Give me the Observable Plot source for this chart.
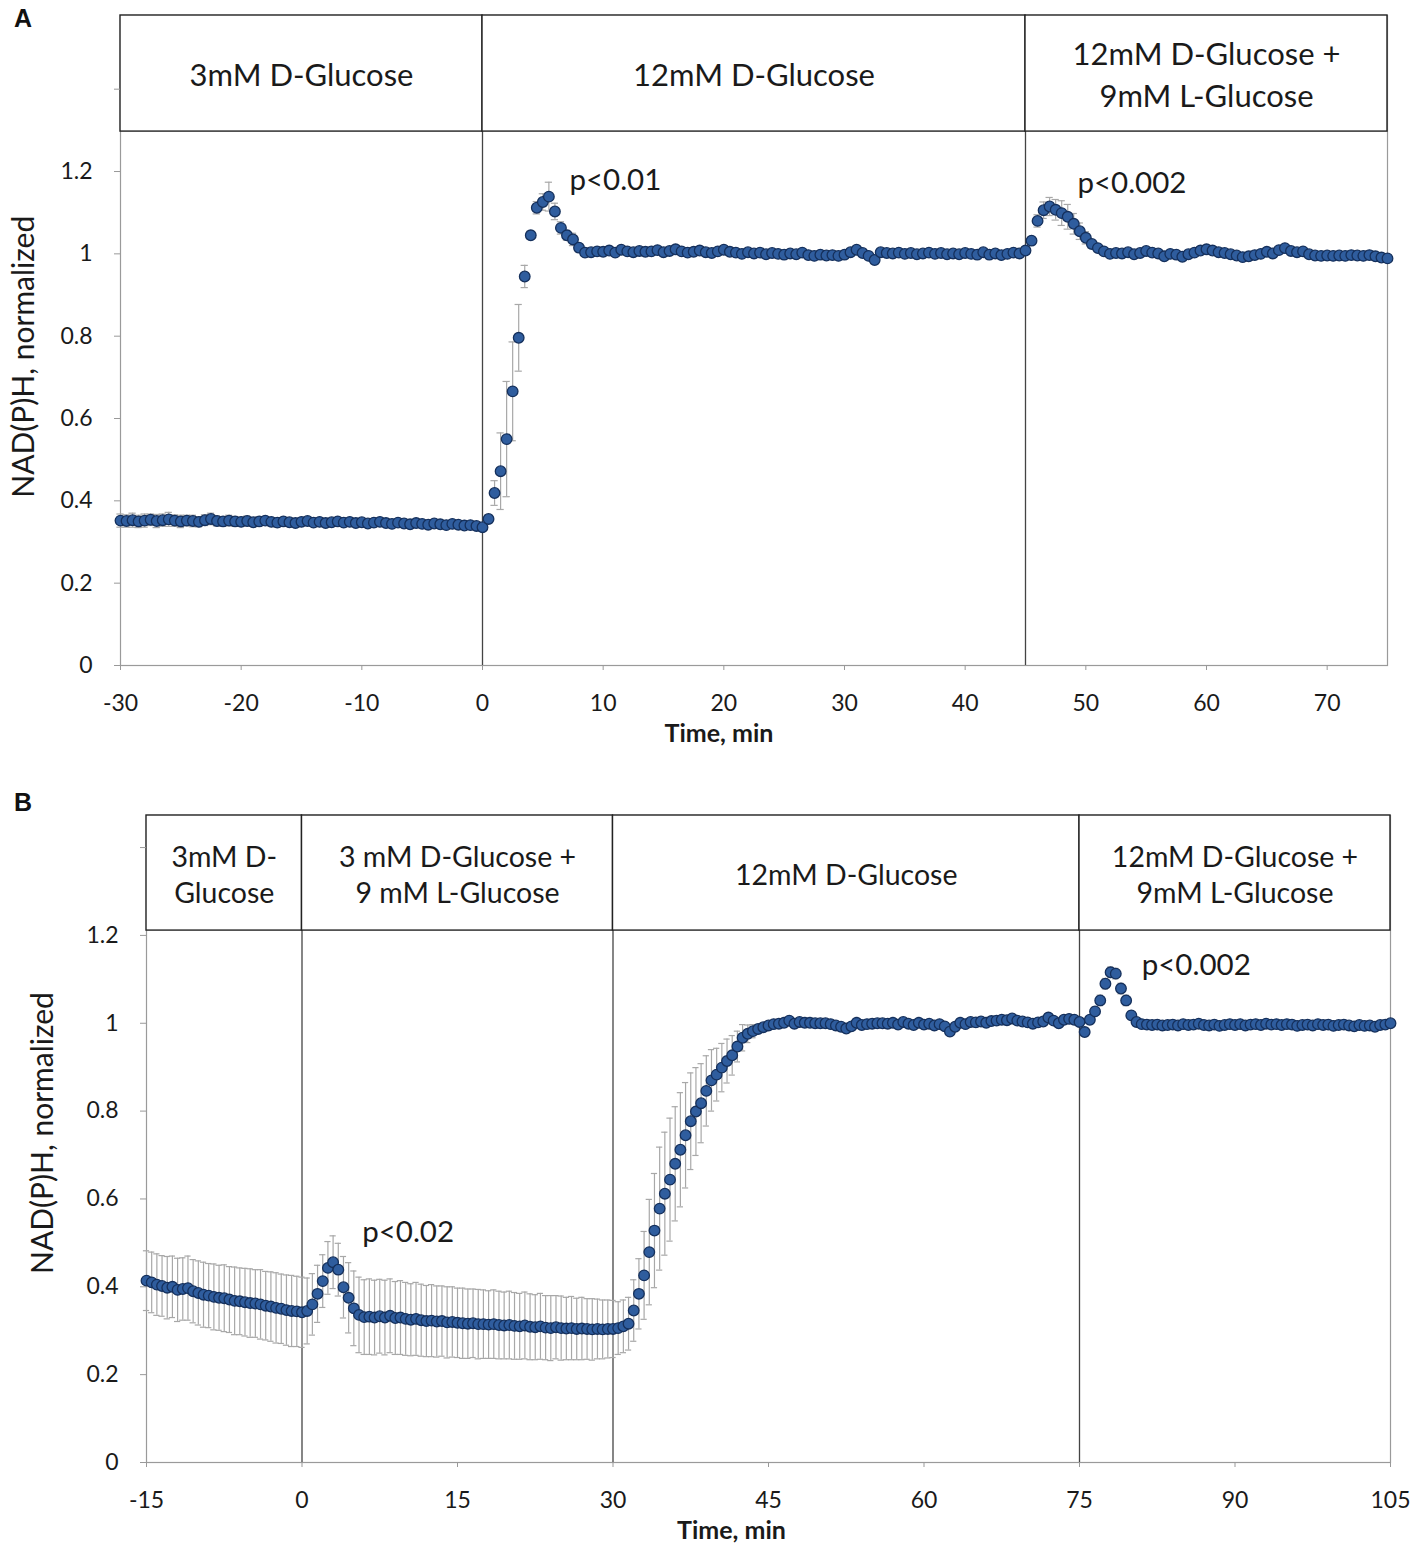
<!DOCTYPE html>
<html>
<head>
<meta charset="utf-8">
<script src="https://cdn.jsdelivr.net/npm/d3@7"></script>
<script src="https://cdn.jsdelivr.net/npm/@observablehq/plot@0.6"></script>
<style>
  html, body { margin: 0; padding: 0; background: #fff; }
  #wrap { position: relative; width: 1417px; height: 1550px; }
  .panel { position: absolute; left: 0; z-index: 1; }
  .plabel { position: absolute; left: 14px; z-index: 5; font-family: "Liberation Sans", Arial, sans-serif; font-weight: bold; font-size: 25px; line-height: 1; color: #111; }
</style>
</head>
<body>
<div id="wrap">
  <div id="pa" class="panel" style="top:0px"></div>
  <div id="pb" class="panel" style="top:780px"></div>
  <div class="plabel" style="top:6px">A</div>
  <div class="plabel" style="top:790px">B</div>
</div>
<script>
// ---------- Panel A data (0.5-min sampling, -30 .. 75 min) ----------
const timeStartA = -30, timeStepA = 0.5;
const yA_pre = [
  0.352,0.351,0.353,0.350,0.352,0.354,0.351,0.353,0.355,0.352,
  0.350,0.352,0.351,0.349,0.353,0.356,0.351,0.350,0.352,0.350,
  0.349,0.351,0.348,0.350,0.352,0.349,0.347,0.350,0.348,0.346,
  0.349,0.351,0.347,0.349,0.346,0.348,0.350,0.347,0.349,0.346,
  0.348,0.345,0.347,0.349,0.346,0.344,0.347,0.345,0.343,0.346,
  0.344,0.342,0.345,0.343,0.341,0.344,0.342,0.340,0.341,0.339
];
const yA_rise = [0.336,0.356,0.419,0.472,0.550,0.666,0.796,0.945,1.045,1.112,1.126,1.139,1.103,1.063,1.045,1.035,1.015,1.003];
const yA_plat = [
  1.004,1.006,1.005,1.008,1.003,1.010,1.006,1.004,1.007,1.005,
  1.006,1.009,1.004,1.007,1.011,1.006,1.003,1.005,1.008,1.004,
  1.002,1.006,1.010,1.005,1.003,1.000,1.004,1.001,1.003,0.999,
  1.002,1.000,0.998,1.001,0.999,1.003,0.997,0.995,0.998,0.996,
  0.997,0.995,0.998,1.004,1.010,1.002,0.995,0.985,1.004,1.002,
  1.001,1.003,1.000,1.002,0.999,1.001,1.003,1.000,1.002,0.999,
  1.001,0.999,1.002,1.000,0.998,1.004,0.998,1.001,0.997,1.000,
  1.003,1.001,1.008
];
const yA_post = [
  1.032,1.080,1.106,1.115,1.107,1.099,1.090,1.073,1.055,1.039,
  1.024,1.014,1.006,1.000,1.002,1.001,1.004,0.999,1.002,1.007,
  1.003,1.001,0.994,1.000,0.998,0.993,0.999,1.003,1.008,1.011,
  1.008,1.004,1.002,0.999,0.996,0.992,0.994,0.997,1.000,1.005,
  1.001,1.009,1.014,1.007,1.004,1.006,0.999,0.996,0.995,0.996,
  0.995,0.996,0.995,0.997,0.996,0.995,0.997,0.994,0.991,0.989
];
const eA_pre = [
  0.016,0.015,0.017,0.015,0.016,0.014,0.016,0.015,0.017,0.014,
  0.015,0.013,0.014,0.012,0.013,0.014,0.012,0.011,0.013,0.012,
  0.011,0.012,0.010,0.011,0.009,0.010,0.011,0.009,0.010,0.008,
  0.009,0.008,0.009,0.007,0.008,0.009,0.007,0.008,0.007,0.008,
  0.007,0.006,0.008,0.007,0.006,0.007,0.006,0.005,0.007,0.006,
  0.005,0.006,0.005,0.006,0.005,0.004,0.005,0.006,0.005,0.004
];
const eA_rise = [0.005,0.010,0.030,0.093,0.140,0.120,0.081,0.027,0.010,0.015,0.020,0.035,0.020,0.015,0.012,0.015,0.010,0.006];
const eA_plat = [
  0.005,0.005,0.004,0.005,0.005,0.004,0.005,0.005,0.004,0.005,
  0.005,0.004,0.005,0.004,0.005,0.005,0.004,0.005,0.004,0.005,
  0.004,0.005,0.004,0.004,0.005,0.004,0.004,0.005,0.004,0.004,
  0.004,0.005,0.004,0.004,0.004,0.005,0.004,0.004,0.004,0.004,
  0.004,0.004,0.005,0.004,0.004,0.004,0.004,0.005,0.004,0.004,
  0.004,0.004,0.004,0.004,0.004,0.004,0.004,0.004,0.004,0.004,
  0.004,0.004,0.004,0.004,0.004,0.004,0.004,0.004,0.004,0.004,
  0.004,0.004,0.006
];
const eA_post = [
  0.008,0.015,0.020,0.022,0.025,0.030,0.030,0.025,0.020,0.015,
  0.010,0.007,0.006,0.005,0.005,0.005,0.005,0.005,0.005,0.005,
  0.005,0.005,0.005,0.005,0.005,0.005,0.005,0.005,0.005,0.005,
  0.005,0.005,0.005,0.005,0.005,0.005,0.005,0.005,0.005,0.005,
  0.005,0.005,0.005,0.005,0.005,0.005,0.005,0.005,0.005,0.005,
  0.005,0.005,0.005,0.005,0.005,0.005,0.005,0.005,0.005,0.005
];
const headersA = [
  {x1: -30, x2: 0,  lines: ["3mM D-Glucose"]},
  {x1: 0,   x2: 45, lines: ["12mM D-Glucose"]},
  {x1: 45,  x2: 75, lines: ["12mM D-Glucose +", "9mM L-Glucose"]}
];
const dividersA = [0, 45];
const pvalsA = [{x: 7.2, y: 1.178, text: "p<0.01"}, {x: 49.3, y: 1.171, text: "p<0.002"}];
const xTicksA = [-30, -20, -10, 0, 10, 20, 30, 40, 50, 60, 70];

// ---------- Panel B data (0.5-min sampling, -15 .. 105 min) ----------
const timeStartB = -15, timeStepB = 0.5;
const yB_pre = [
  0.414,0.410,0.405,0.402,0.398,0.400,0.393,0.395,0.397,0.390,
  0.386,0.382,0.380,0.377,0.375,0.374,0.371,0.368,0.367,0.365,
  0.363,0.362,0.360,0.357,0.355,0.352,0.350,0.347,0.345,0.344
];
const yB_l = [
  0.342,0.345,0.360,0.384,0.413,0.443,0.456,0.439,0.399,0.375,
  0.351,0.336,0.331,0.332,0.330,0.333,0.330,0.334,0.329,0.330,
  0.327,0.325,0.327,0.324,0.322,0.323,0.321,0.322,0.319,0.320,
  0.318,0.317,0.316,0.317,0.315,0.315,0.314,0.315,0.313,0.312,
  0.313,0.311,0.310,0.312,0.309,0.308,0.310,0.307,0.306,0.308,
  0.306,0.305,0.306,0.304,0.305,0.304,0.303,0.304,0.303,0.304,
  0.304
];
const yB_rise = [
  0.306,0.310,0.316,0.346,0.384,0.426,0.479,0.528,0.578,0.612,
  0.644,0.680,0.712,0.745,0.777,0.799,0.818,0.846,0.870,0.883,
  0.899,0.914,0.927,0.947,0.967,0.976,0.982,0.987,0.991,0.995
];
const yB_plat = [
  0.998,0.999,1.001,1.006,0.999,1.003,1.001,1.001,1.000,1.000,
  1.000,0.998,0.995,0.992,0.988,0.993,1.001,0.996,0.998,0.999,
  1.000,1.000,0.999,1.001,0.997,1.003,0.999,0.996,1.001,0.997,
  0.999,0.995,0.998,0.993,0.981,0.992,1.001,0.998,1.003,1.002,
  1.004,1.001,1.005,1.006,1.008,1.007,1.011,1.006,1.004,1.002,
  0.999,1.002,1.004,1.013,1.006,1.000,1.008,1.010,1.008,1.003
];
const yB_post = [
  0.980,1.008,1.027,1.052,1.090,1.116,1.113,1.079,1.052,1.018,
  1.003,0.998,0.997,0.996,0.997,0.995,0.996,0.997,0.995,0.998,
  0.996,0.997,0.999,0.996,0.995,0.997,0.994,0.996,0.998,0.996,
  0.998,0.995,0.997,0.998,0.996,0.999,0.997,0.998,0.996,0.998,
  0.997,0.994,0.996,0.997,0.995,0.998,0.996,0.997,0.994,0.996,
  0.997,0.995,0.993,0.996,0.994,0.995,0.992,0.996,0.997,1.000
];
const eB_pre = [
  0.068,0.069,0.070,0.069,0.071,0.070,0.072,0.071,0.073,0.072,
  0.073,0.074,0.073,0.075,0.074,0.076,0.075,0.077,0.076,0.077,
  0.078,0.077,0.079,0.078,0.079,0.080,0.079,0.080,0.081,0.080
];
const eB_l = [
  0.080,0.075,0.070,0.065,0.060,0.060,0.060,0.060,0.070,0.080,
  0.085,0.086,0.085,0.086,0.085,0.084,0.085,0.084,0.083,0.084,
  0.083,0.082,0.083,0.082,0.081,0.082,0.081,0.080,0.081,0.080,
  0.079,0.080,0.079,0.078,0.079,0.078,0.077,0.078,0.077,0.076,
  0.077,0.076,0.075,0.076,0.075,0.074,0.075,0.073,0.074,0.072,
  0.073,0.071,0.072,0.070,0.071,0.069,0.070,0.068,0.067,0.066,
  0.065
];
const eB_rise = [
  0.060,0.060,0.060,0.070,0.080,0.100,0.120,0.130,0.140,0.140,
  0.140,0.130,0.130,0.120,0.110,0.100,0.090,0.080,0.070,0.060,
  0.055,0.050,0.045,0.035,0.030,0.020,0.015,0.010,0.008,0.006
];
const eB_plat = [
  0.005,0.005,0.005,0.005,0.005,0.005,0.005,0.005,0.005,0.005,
  0.005,0.005,0.005,0.005,0.005,0.005,0.005,0.005,0.005,0.005,
  0.005,0.005,0.005,0.005,0.005,0.005,0.005,0.005,0.005,0.005,
  0.005,0.005,0.005,0.005,0.005,0.005,0.005,0.005,0.005,0.005,
  0.005,0.005,0.005,0.005,0.005,0.005,0.005,0.005,0.005,0.005,
  0.005,0.005,0.005,0.005,0.005,0.005,0.005,0.005,0.005,0.005
];
const eB_post = [
  0.006,0.008,0.010,0.012,0.012,0.012,0.012,0.012,0.012,0.010,
  0.006,0.005,0.005,0.005,0.005,0.005,0.005,0.005,0.005,0.005,
  0.005,0.005,0.005,0.005,0.005,0.005,0.005,0.005,0.005,0.005,
  0.005,0.005,0.005,0.005,0.005,0.005,0.005,0.005,0.005,0.005,
  0.005,0.005,0.005,0.005,0.005,0.005,0.005,0.005,0.005,0.005,
  0.005,0.005,0.005,0.005,0.005,0.005,0.005,0.005,0.005,0.005
];
const headersB = [
  {x1: -15, x2: 0,   lines: ["3mM D-", "Glucose"]},
  {x1: 0,   x2: 30,  lines: ["3 mM D-Glucose +", "9 mM L-Glucose"]},
  {x1: 30,  x2: 75,  lines: ["12mM D-Glucose"]},
  {x1: 75,  x2: 105, lines: ["12mM D-Glucose +", "9mM L-Glucose"]}
];
const dividersB = [0, 30, 75];
const pvalsB = [{x: 5.8, y: 0.524, text: "p<0.02"}, {x: 81.0, y: 1.132, text: "p<0.002"}];
const xTicksB = [-15, 0, 15, 30, 45, 60, 75, 90, 105];

const yTicks = [0, 0.2, 0.4, 0.6, 0.8, 1, 1.2, 1.4];
const yTitle = "NAD(P)H, normalized";
const xTitle = "Time, min";

// ---------- build ----------
function series(start, step, ys, es) {
  return ys.map((y, i) => ({t: start + i * step, y, e: es[i]}));
}
const dataA = series(timeStartA, timeStepA, [...yA_pre, ...yA_rise, ...yA_plat, ...yA_post], [...eA_pre, ...eA_rise, ...eA_plat, ...eA_post]);
const dataB = series(timeStartB, timeStepB, [...yB_pre, ...yB_l, ...yB_rise, ...yB_plat, ...yB_post], [...eB_pre, ...eB_l, ...eB_rise, ...eB_plat, ...eB_post]);

const FONT = "Lato, 'Open Sans', sans-serif";

function headerText(headers, hb, top, lineGap, shift) {
  const rows = [];
  headers.forEach(h => {
    const n = h.lines.length;
    h.lines.forEach((s, k) => {
      rows.push({x: (h.x1 + h.x2) / 2, y: (hb + top) / 2, text: s, dy: (k - (n - 1) / 2) * lineGap + shift});
    });
  });
  return rows;
}

function panel(cfg) {
  const {data, xDomain, yMax, hb, headers, dividers, pvals, xTicks, height, margins, headerFont, lineGap, headerShift, pFont, xTitleDx, yTitleDx, capHalf} = cfg;
  const hrows = headerText(headers, hb, yMax, lineGap, headerShift);
  return Plot.plot({
    width: 1417,
    height,
    marginLeft: margins[0], marginRight: margins[1], marginTop: margins[2], marginBottom: margins[3],
    style: {fontFamily: FONT, background: "white", color: "#1a1a1a", overflow: "visible"},
    x: {domain: xDomain},
    y: {domain: [0, yMax]},
    marks: [
      Plot.frame({stroke: "#9a9a9a", strokeWidth: 1.2}),
      Plot.ruleX(dividers, {x: d => d, y1: 0, y2: hb, stroke: "#444", strokeWidth: 1.3}),
      Plot.rect(headers, {x1: "x1", x2: "x2", y1: hb, y2: yMax, fill: "white", stroke: "#222", strokeWidth: 1.4}),
      ...hrows.map(r => Plot.text([r], {x: "x", y: "y", text: "text", dy: r.dy, fontSize: headerFont, fill: "#1a1a1a"})),
      Plot.axisY({ticks: yTicks, tickFormat: d => (d > 1.3 ? "" : String(d)), tickSize: 6, tickPadding: 22, fontSize: 23, stroke: "#999", label: null}),
      Plot.axisX({ticks: xTicks, tickFormat: d => String(d), tickSize: 5, tickPadding: 24, fontSize: 23, stroke: "#999", label: null}),
      Plot.ruleX(data, {x: "t", y1: d => d.y - d.e, y2: d => d.y + d.e, stroke: "#a8a8a8", strokeWidth: 1.2}),
      Plot.ruleY(data, {y: d => d.y + d.e, x1: d => d.t - capHalf, x2: d => d.t + capHalf, stroke: "#a8a8a8", strokeWidth: 1.2}),
      Plot.ruleY(data, {y: d => d.y - d.e, x1: d => d.t - capHalf, x2: d => d.t + capHalf, stroke: "#a8a8a8", strokeWidth: 1.2}),
      Plot.dot(data, {x: "t", y: "y", r: 5.3, fill: "#2F5D9E", stroke: "#15305C", strokeWidth: 1.3}),
      Plot.text(pvals, {x: "x", y: "y", text: "text", textAnchor: "start", fontSize: pFont, fill: "#1a1a1a"}),
      Plot.text([xTitle], {frameAnchor: "bottom", lineAnchor: "middle", dy: 68, dx: xTitleDx, fontSize: 25, fontWeight: "bold", fill: "#1a1a1a"}),
      Plot.text([yTitle], {frameAnchor: "left", textAnchor: "middle", lineAnchor: "middle", y: [0.75], dx: yTitleDx, rotate: -90, fontSize: 30, fill: "#1a1a1a"})
    ]
  });
}

const svgA = panel({
  data: dataA, xDomain: [-30, 75], yMax: 1.579, hb: 1.297,
  headers: headersA, dividers: dividersA, pvals: pvalsA, xTicks: xTicksA,
  height: 780, margins: [120, 30, 15, 115], headerFont: 31, lineGap: 42, headerShift: 3, pFont: 29.5,
  xTitleDx: -35, yTitleDx: -96, capHalf: 0.3
});
const svgB = panel({
  data: dataB, xDomain: [-15, 105], yMax: 1.473, hb: 1.211,
  headers: headersB, dividers: dividersB, pvals: pvalsB, xTicks: xTicksB,
  height: 770, margins: [146, 27, 35, 88], headerFont: 28.5, lineGap: 36, headerShift: 3, pFont: 29.5,
  xTitleDx: -37, yTitleDx: -103, capHalf: 0.3
});
svgA.style.display = "block";
svgB.style.display = "block";
document.getElementById("pa").appendChild(svgA);
document.getElementById("pb").appendChild(svgB);
</script>
</body>
</html>
